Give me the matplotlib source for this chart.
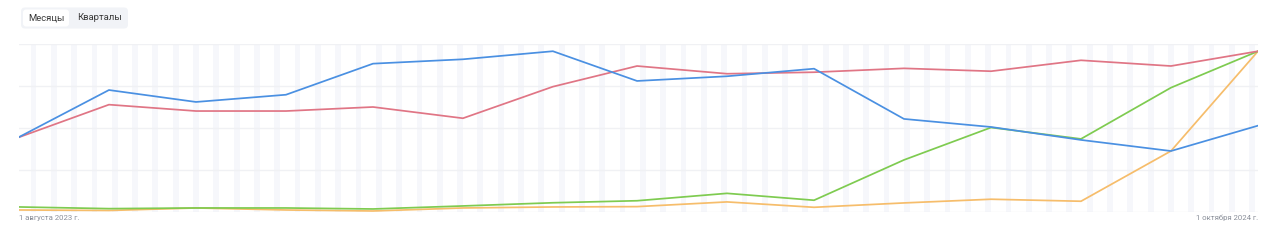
import matplotlib
matplotlib.use("Agg")
import matplotlib.pyplot as plt
import matplotlib.dates as mdates
from matplotlib.patches import FancyBboxPatch
import numpy as np
import pandas as pd

plt.rcParams['font.family'] = ['Roboto', 'DejaVu Sans']

months = pd.date_range("2023-08-01", "2024-10-01", freq="MS")
blue = [44.6, 72.6, 65.5, 69.8, 88.3, 90.9, 95.7, 78.0, 80.8, 85.3, 55.4, 50.6, 42.9, 36.3, 51.4]
red = [44.5, 63.9, 60.1, 60.1, 62.5, 55.8, 74.6, 86.9, 82.3, 83.2, 85.5, 83.8, 90.3, 86.9, 95.7]
green = [3.0, 2.0, 2.4, 2.4, 1.8, 3.6, 5.5, 6.7, 11.1, 7.0, 31.0, 50.3, 43.5, 74.0, 95.7]
orange = [1.2, 0.9, 2.4, 1.2, 0.6, 2.4, 3.0, 3.2, 6.0, 2.8, 5.4, 7.6, 6.4, 36.3, 95.7]
y_grid = [0, 25, 50, 75, 100]
left_label = "1 августа 2023 г."
right_label = "1 октября 2024 г."
buttons = ["Месяцы", "Кварталы"]

W, H = 1280, 241
fig = plt.figure(figsize=(W / 100, H / 100), dpi=100)
fig.patch.set_facecolor("white")

x0, x1 = 19, 1258
ytop, ybot = 44, 212
ax = fig.add_axes([x0 / W, (H - ybot) / H, (x1 - x0) / W, (ybot - ytop) / H])
ax.set_facecolor("white")

start, end = months[0], months[-1]
ax.set_xlim(start, end)
ax.set_ylim(0, 100)

# weekend stripes
days = pd.date_range(start, end, freq="D")
for d in days:
    if d.weekday() == 5:
        e = min(d + pd.Timedelta(days=2), end)
        ax.axvspan(d, e, color="#f6f7fb", lw=0, zorder=0)

for g in y_grid:
    ax.axhline(g, color="#f0f1f4", lw=1, zorder=1)

ax.plot(months, blue, color="#4a90e2", lw=1.25, zorder=5)
ax.plot(months, red, color="#e07585", lw=1.25, zorder=4)
ax.plot(months, green, color="#7ecb50", lw=1.25, zorder=3)
ax.plot(months, orange, color="#f6bd6b", lw=1.25, zorder=2)

for s in ax.spines.values():
    s.set_visible(False)
ax.set_xticks([])
ax.set_yticks([])
ax.margins(0)

fig.text(x0 / W, 1 - 218 / H, left_label, ha="left", va="center", fontsize=5.6, color="#8a8f99")
fig.text(x1 / W, 1 - 218 / H, right_label, ha="right", va="center", fontsize=5.6, color="#8a8f99")

# buttons
bax = fig.add_axes([0, 0, 1, 1], zorder=10)
bax.set_xlim(0, W)
bax.set_ylim(H, 0)
bax.axis("off")
bax.patch.set_alpha(0)
bax.add_patch(FancyBboxPatch((21, 7.5), 107, 21, boxstyle="round,pad=0,rounding_size=4",
                             fc="#f1f3f7", ec="none"))
bax.add_patch(FancyBboxPatch((23, 9.5), 46, 17, boxstyle="round,pad=0,rounding_size=3",
                             fc="white", ec="none"))
bax.text(46, 18, buttons[0], ha="center", va="center", fontsize=6.8, color="#3a3a3a")
bax.text(99, 18, buttons[1], ha="center", va="center", fontsize=6.8, color="#3a3a3a")

fig.savefig("out.png", dpi=100, facecolor="white")
